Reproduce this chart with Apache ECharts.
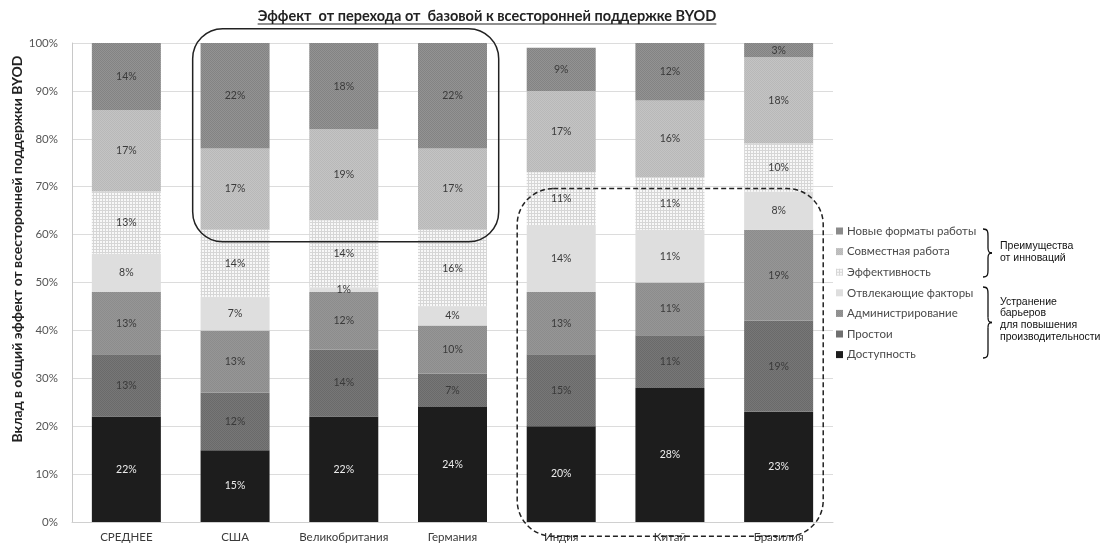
<!DOCTYPE html>
<html>
<head>
<meta charset="utf-8">
<script src="https://cdn.jsdelivr.net/npm/echarts@6/dist/echarts.min.js"></script>
<style>
  html, body { margin: 0; padding: 0; background: #ffffff; }
  #chart { width: 1101px; height: 547px; }
</style>
</head>
<body>
<div id="chart"></div>
<script>
// Categories along the x axis
const categories = ['СРЕДНЕЕ', 'США', 'Великобритания', 'Германия', 'Индия', 'Китай', 'Бразилия'];

// Shares (%) per component, stacked bottom to top
const dostupnost      = [22, 15, 22, 24, 20, 28, 23]; // Доступность
const prostoi         = [13, 12, 14,  7, 15, 11, 19]; // Простои
const administr       = [13, 13, 12, 10, 13, 11, 19]; // Администрирование
const otvlekayushchie = [ 8,  7,  1,  4, 14, 11,  8]; // Отвлекающие факторы
const effektivnost    = [13, 14, 14, 16, 11, 11, 10]; // Эффективность
const sovmestnaya     = [17, 17, 19, 17, 17, 16, 18]; // Совместная работа
const novyeFormaty    = [14, 22, 18, 22,  9, 12,  3]; // Новые форматы работы

const yTicks = [0, 10, 20, 30, 40, 50, 60, 70, 80, 90, 100];

const titleText = 'Эффект  от перехода от  базовой к всесторонней поддержке BYOD';
const yName = 'Вклад в общий эффект от всесторонней поддержки BYOD';
const groupTop = ['Преимущества', 'от инноваций'];
const groupBottom = ['Устранение', 'барьеров', 'для повышения', 'производительности'];

// Small repeating textures used as bar fills
function dotted(a, b) {
  const c = document.createElement('canvas');
  c.width = 2; c.height = 2;
  const g = c.getContext('2d');
  g.fillStyle = a; g.fillRect(0, 0, 2, 2);
  g.fillStyle = b; g.fillRect(0, 0, 1, 1); g.fillRect(1, 1, 1, 1);
  return { image: c, repeat: 'repeat' };
}
function gridded(bg, line) {
  const c = document.createElement('canvas');
  c.width = 3; c.height = 3;
  const g = c.getContext('2d');
  g.fillStyle = bg; g.fillRect(0, 0, 3, 3);
  g.fillStyle = line; g.fillRect(0, 0, 3, 1); g.fillRect(0, 0, 1, 3);
  return { image: c, repeat: 'repeat' };
}

const seriesDefs = [
  { name: 'Доступность',          data: dostupnost,      color: '#1d1d1d', label: '#ececec' },
  { name: 'Простои',              data: prostoi,         color: dotted('#777777', '#6a6a6a'), label: '#3a3a3a' },
  { name: 'Администрирование',    data: administr,       color: dotted('#969696', '#8c8c8c'), label: '#3a3a3a' },
  { name: 'Отвлекающие факторы',  data: otvlekayushchie, color: '#dedede', label: '#3a3a3a' },
  { name: 'Эффективность',        data: effektivnost,    color: gridded('#f8f8f8', '#d6d6d6'), label: '#3a3a3a' },
  { name: 'Совместная работа',    data: sovmestnaya,     color: dotted('#c4c4c4', '#b8b8b8'), label: '#3a3a3a' },
  { name: 'Новые форматы работы', data: novyeFormaty,    color: dotted('#939393', '#838383'), label: '#3a3a3a' }
];

const FONT = 'Lato, "Open Sans", sans-serif';

const chart = echarts.init(document.getElementById('chart'), null, { renderer: 'canvas' });

const option = {
  animation: false,
  backgroundColor: '#ffffff',
  grid: { left: 72, right: 268, top: 43, bottom: 25, containLabel: false },
  legend: {
    orient: 'vertical',
    left: 836,
    top: 225,
    padding: 0,
    itemWidth: 7,
    itemHeight: 7,
    itemGap: 8.6,
    icon: 'rect',
    selectedMode: false,
    textStyle: { fontFamily: FONT, fontSize: 11.5, color: '#4a4a4a', padding: [0, 0, 0, -1] },
    data: seriesDefs.map(s => s.name).reverse()
  },
  xAxis: {
    type: 'category',
    data: categories,
    axisLine: { show: true, lineStyle: { color: '#d0d0d0', width: 1 } },
    axisTick: { show: false },
    axisLabel: { interval: 0, fontFamily: FONT, fontSize: 11.5, color: '#3a3a3a', margin: 9 }
  },
  yAxis: {
    type: 'value',
    min: yTicks[0],
    max: yTicks[yTicks.length - 1],
    interval: 10,
    axisLine: { show: true, lineStyle: { color: '#c8c8c8', width: 1 } },
    axisTick: { show: false },
    splitLine: { lineStyle: { color: '#dcdcdc', width: 1 } },
    axisLabel: { fontFamily: FONT, fontSize: 11.5, color: '#555555', margin: 14, formatter: '{value}%' }
  },
  series: seriesDefs.map(s => ({
    name: s.name,
    type: 'bar',
    stack: 'total',
    barWidth: 69,
    data: s.data,
    itemStyle: { color: s.color },
    label: {
      show: true,
      position: 'inside',
      formatter: p => p.value + '%',
      fontFamily: FONT,
      fontSize: 10.5,
      color: s.label
    }
  }))
};

chart.setOption(option);

// Annotation frames placed from the axes' own scales
const xOf = i => chart.convertToPixel({ xAxisIndex: 0 }, i);
const yOf = v => chart.convertToPixel({ yAxisIndex: 0 }, v);
const band = xOf(1) - xOf(0);

const solidL = xOf(1) - 0.39 * band, solidR = xOf(3) + 0.425 * band;
const solidT = yOf(103), solidB = yOf(58.5);
const dashL = xOf(4) - 0.405 * band, dashR = xOf(6) + 0.41 * band;
const dashT = yOf(69.6), dashB = yOf(-3);

// Title width for the underline
const TITLE_FONT = 'bold 14.5px ' + FONT;
const meas = document.createElement('canvas').getContext('2d');
meas.font = TITLE_FONT;
const titleW = meas.measureText(titleText).width;
const titleX = 487, titleY = 16;

// Curly brace built from curve and line pieces
function brace(x, y0, y1) {
  const m = (y0 + y1) / 2, w = 5;
  const st = { fill: 'none', stroke: '#111111', lineWidth: 1.3 };
  const xr = x + w;
  return [
    { type: 'bezierCurve', z: 100, shape: { x1: x, y1: y0, x2: xr, y2: y0 + 7, cpx1: x + w, cpy1: y0, cpx2: xr, cpy2: y0 + 3 }, style: st },
    { type: 'line', z: 100, shape: { x1: xr, y1: y0 + 7, x2: xr, y2: m - 5 }, style: st },
    { type: 'bezierCurve', z: 100, shape: { x1: xr, y1: m - 5, x2: xr + 4, y2: m, cpx1: xr, cpy1: m - 1, cpx2: xr + 1, cpy2: m }, style: st },
    { type: 'bezierCurve', z: 100, shape: { x1: xr + 4, y1: m, x2: xr, y2: m + 5, cpx1: xr + 1, cpy1: m, cpx2: xr, cpy2: m + 1 }, style: st },
    { type: 'line', z: 100, shape: { x1: xr, y1: m + 5, x2: xr, y2: y1 - 7 }, style: st },
    { type: 'bezierCurve', z: 100, shape: { x1: xr, y1: y1 - 7, x2: x, y2: y1, cpx1: xr, cpy1: y1 - 3, cpx2: x + w, cpy2: y1 }, style: st }
  ];
}

const SIDE_FONT = '10.5px "Liberation Sans", Arial, sans-serif';

chart.setOption({
  graphic: [
    {
      type: 'text', x: titleX, y: titleY,
      style: { text: titleText, font: TITLE_FONT, fill: '#222222', align: 'center', verticalAlign: 'middle' }
    },
    {
      type: 'line', z: 10,
      shape: { x1: titleX - titleW / 2, y1: titleY + 8, x2: titleX + titleW / 2, y2: titleY + 8 },
      style: { stroke: '#222222', lineWidth: 1 }
    },
    {
      type: 'text', x: 17, y: 249, rotation: Math.PI / 2,
      style: { text: yName, font: 'bold 14px ' + FONT, fill: '#222222', align: 'center', verticalAlign: 'middle' }
    },
    {
      type: 'rect', z: 100,
      shape: { x: solidL, y: solidT, width: solidR - solidL, height: solidB - solidT, r: 30 },
      style: { fill: 'none', stroke: '#222222', lineWidth: 1.5 }
    },
    {
      type: 'rect', z: 100,
      shape: { x: dashL, y: dashT, width: dashR - dashL, height: dashB - dashT, r: 36 },
      style: { fill: 'none', stroke: '#222222', lineWidth: 1.5, lineDash: [5, 3] }
    }
  ].concat(brace(983, 229, 277), brace(983, 287, 358), [
    {
      type: 'text', x: 1000, y: 240,
      style: { text: groupTop.join('\n'), font: SIDE_FONT, fill: '#111111', lineHeight: 12 }
    },
    {
      type: 'text', x: 1000, y: 296,
      style: { text: groupBottom.join('\n'), font: SIDE_FONT, fill: '#111111', lineHeight: 11.7 }
    }
  ])
});
</script>
</body>
</html>
